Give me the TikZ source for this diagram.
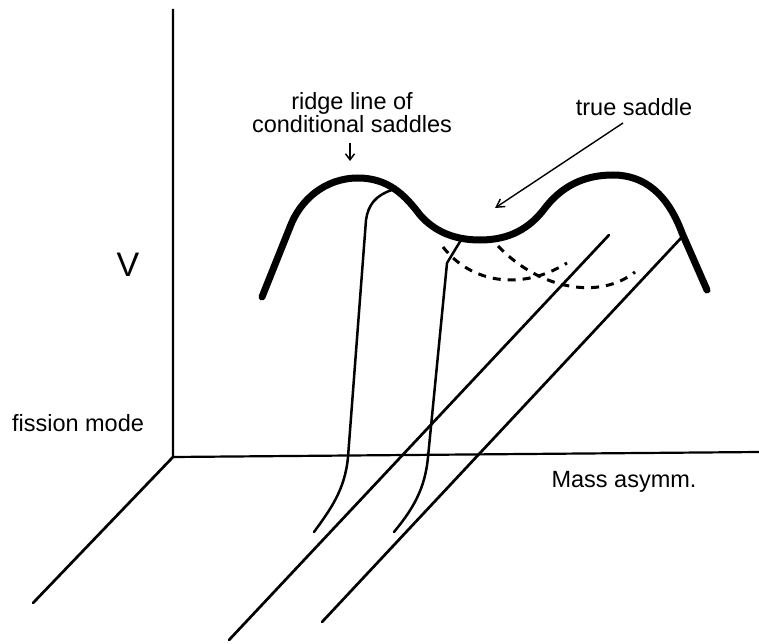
\documentclass[tikz,border=0pt]{standalone}
\usepackage{fontspec}
\setmainfont{Liberation Sans}
\usetikzlibrary{arrows.meta}
\begin{document}
\begin{tikzpicture}[x=1pt,y=-1pt,
  axisline/.style={line width=2.2pt},
  thickcurve/.style={line width=7pt,line cap=round},
  thincurve/.style={line width=2.5pt,line cap=round},
  floorline/.style={line width=2.7pt,line cap=round},
  dashcurve/.style={line width=3pt,dash pattern=on 8pt off 7pt},
  lbl/.style={font=\fontsize{23.5}{26}\selectfont,inner sep=0pt},
  pointer/.style={line width=1.4pt,-{Straight Barb[length=8pt,width=9pt]}}]
\useasboundingbox (0,0) rectangle (759,644);
% axes
\coordinate (o) at (173,457);
\coordinate (vtop) at (173,9);
\coordinate (hend) at (759,452);
\coordinate (fend) at (33,603);
\draw[axisline] (vtop) -- (o) -- (hend);
\draw[floorline] (o) -- (fend);
% floor lines
\coordinate (l2a) at (229,640); \coordinate (l2b) at (609,235);
\coordinate (l3a) at (322,622); \coordinate (l3b) at (682,237);
\draw[floorline] (l2a) -- (l2b);
\draw[floorline] (l3a) -- (l3b);
% thick potential curve
\draw[thickcurve] (262,297) -- (290,227)
  .. controls (300,200) and (325,178) .. (358,178)
  .. controls (388,178) and (405,195) .. (420,215)
  .. controls (435,232) and (455,240) .. (480,240)
  .. controls (510,240) and (530,228) .. (545,208)
  .. controls (565,182) and (590,175) .. (613,175)
  .. controls (645,175) and (668,195) .. (682,233) -- (707,290);
% thin fission paths
\draw[thincurve] (392,190) .. controls (376,195) and (368,205) .. (366,220)
  -- (348,457) .. controls (345,490) and (330,510) .. (314,532);
\draw[thincurve] (461,240) -- (447,263) -- (428,457)
  .. controls (425,490) and (412,510) .. (394,532);
% dashed curves
\draw[dashcurve] (443,247) .. controls (470,282) and (520,292) .. (567,263);
\draw[dashcurve] (498,246) .. controls (540,290) and (600,300) .. (635,272);
% labels
\node[lbl,align=center] (ridge) at (352,113) {ridge line of\\[-3pt]conditional saddles};
\coordinate (ridgetip) at (350,161);
\draw[line width=1.5pt,-{Straight Barb[length=6pt,width=9pt]}] (350,143) -- (ridgetip);
\node[lbl] (saddle) at (634,107) {true saddle};
\coordinate (saddletip) at (495,208);
\draw[pointer] (623,123) -- (saddletip);
\node[font=\fontsize{34}{36}\selectfont,inner sep=0pt] (V) at (128,265) {V};
\node[lbl] (fission) at (78,423) {fission mode};
\node[lbl] (mass) at (624,482) {Mass asymm.};
\end{tikzpicture}
\end{document}
